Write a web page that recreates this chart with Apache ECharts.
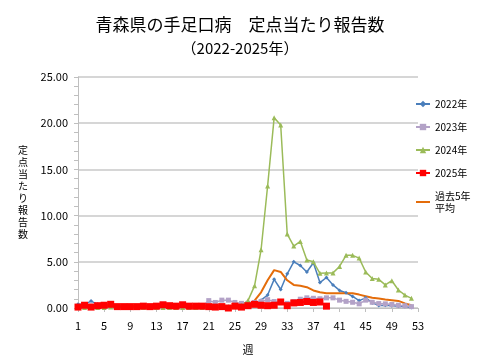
<!DOCTYPE html>
<html><head><meta charset="utf-8">
<script src="https://cdn.jsdelivr.net/npm/echarts@6/dist/echarts.min.js"></script>
<style>html,body{margin:0;padding:0;background:#fff}#c{width:480px;height:360px}</style>
</head><body><div id="c"></div>
<script>
const weeks = Array.from({length:53},(_,i)=>String(i+1));
const y2022 = [0.4,0.4,0.75,0.4,0.3,0.25,0.2,0.15,0.15,0.1, 0.1,0.1,0.1,0.1,0.15,0.15,0.1,0.1,0.1,0.1, 0.1,0.1,0.15,0.15,0.2,0.25,0.3,0.45,0.85,1.4, 3.1,2.0,3.7,5.0,4.6,3.9,4.9,2.75,3.3,2.5, 1.9,1.65,1.25,0.8,1.1,0.55,0.28,0.3,0.25,0.2, 0.15,0.05];
const y2023 = [0.15,0.15,0.2,0.2,0.15,0.15,0.1,0.1,0.1,0.1, 0.1,0.1,0.1,0.1,0.1,0.1,0.1,0.1,0.1,0.15, 0.8,0.6,0.85,0.85,0.6,0.5,0.5,0.6,0.7,0.9, 0.7,0.6,0.5,0.7,0.95,1.1,1.05,1.0,1.1,1.1, 0.85,0.72,0.62,0.45,0.85,0.62,0.48,0.45,0.38,0.3, 0.25,0.15];
const y2024 = [0.05,0.05,0.05,0.05,0.05,0.1,0.05,0.05,0.05,0.05, 0.05,0.05,0.05,0.05,0.05,0.05,0.05,0.05,0.05,0.05, 0.05,0.05,0.1,0.1,0.15,0.3,0.8,2.4,6.3,13.2, 20.6,19.8,8.0,6.7,7.2,5.2,5.0,3.75,3.8,3.8, 4.5,5.7,5.7,5.4,3.9,3.2,3.1,2.5,2.95,1.95, 1.4,1.05];
const y2025 = [0.1,0.3,0.1,0.25,0.3,0.4,0.15,0.15,0.15,0.15, 0.2,0.15,0.2,0.35,0.25,0.2,0.35,0.2,0.2,0.2, 0.15,0.1,0.15,0.0,0.2,0.1,0.25,0.4,0.3,0.25, 0.3,0.65,0.25,0.55,0.6,0.7,0.6,0.65,0.2];
const avg5 = [0.3,0.3,0.3,0.3,0.3,0.3,0.28,0.27,0.26,0.25, 0.25,0.24,0.24,0.23,0.23,0.22,0.22,0.22,0.21,0.21, 0.21,0.21,0.21,0.22,0.22,0.25,0.35,0.8,1.7,3.0, 4.1,3.9,3.0,2.5,2.4,2.25,1.9,1.7,1.6,1.6, 1.6,1.6,1.6,1.45,1.28,1.1,1.02,0.92,0.85,0.77, 0.5,0.3];
const yTicks = [0,5,10,15,20,25];
const seriesNames = ['2022年','2023年','2024年','2025年','過去5年\n平均'];

const FONT = '"Noto Sans CJK JP", "Noto Sans", sans-serif';
const chart = echarts.init(document.getElementById('c'));
chart.setOption({
  animation:false,
  textStyle:{fontFamily:FONT},
  title:[
    {text:'青森県の手足口病　定点当たり報告数', left:'center', top:11, textStyle:{fontSize:17, fontWeight:'normal', color:'#000', fontFamily:FONT}},
    {text:'（2022-2025年）', left:'center', top:36, textStyle:{fontSize:15, fontWeight:'normal', color:'#000', fontFamily:FONT}}
  ],
  legend:{
    orient:'vertical', left:415, top:98, padding:0, itemWidth:14, itemHeight:8, itemGap:11,
    textStyle:{fontSize:10, color:'#000', fontFamily:FONT, lineHeight:12},
    data:[seriesNames[0], seriesNames[1], seriesNames[2], seriesNames[3],
          {name:seriesNames[4], itemStyle:{opacity:0}}]
  },
  grid:{left:78, right:62, top:77, bottom:52},
  xAxis:{
    type:'category', data:weeks, boundaryGap:false,
    name:'週', nameLocation:'middle', nameGap:36,
    nameTextStyle:{fontSize:11, color:'#000', fontFamily:FONT},
    axisLine:{lineStyle:{color:'#bfbfbf'}},
    axisTick:{show:true, interval:3, length:4, lineStyle:{color:'#bfbfbf'}},
    axisLabel:{interval:3, fontSize:11, color:'#000', margin:12, fontFamily:FONT}
  },
  yAxis:{
    type:'value', min:yTicks[0], max:yTicks[yTicks.length-1], interval:5,
    name:'定\n点\n当\nた\nり\n報\n告\n数', nameLocation:'middle', nameRotate:0, nameGap:50,
    nameTextStyle:{fontSize:10, color:'#000', lineHeight:12, fontFamily:FONT},
    axisLine:{show:true, lineStyle:{color:'#bfbfbf'}},
    axisTick:{show:true, length:4, lineStyle:{color:'#bfbfbf'}},
    minorTick:{show:true, splitNumber:5, length:4, lineStyle:{color:'#bfbfbf'}},
    splitLine:{lineStyle:{color:'#c8c8c8', width:1.5}},
    axisLabel:{formatter:v=>v.toFixed(2), fontSize:11, color:'#000', margin:10, fontFamily:FONT}
  },
  series:[
    {name:seriesNames[0], type:'line', data:y2022, symbol:'diamond', symbolSize:4, showAllSymbol:true,
     itemStyle:{color:'#4a7ebb'}, lineStyle:{color:'#4a7ebb', width:1.5}},
    {name:seriesNames[1], type:'line', data:y2023, symbol:'rect', symbolSize:5, showAllSymbol:true,
     itemStyle:{color:'#b3a2c7'}, lineStyle:{color:'#b3a2c7', width:1.5}},
    {name:seriesNames[2], type:'line', data:y2024, symbol:'triangle', symbolSize:5, showAllSymbol:true,
     itemStyle:{color:'#9bbb59'}, lineStyle:{color:'#9bbb59', width:1.5}},
    {name:seriesNames[3], type:'line', data:y2025, symbol:'rect', symbolSize:7, showAllSymbol:true,
     itemStyle:{color:'#ff0000'}, lineStyle:{color:'#ff0000', width:2}},
    {name:seriesNames[4], type:'line', data:avg5, symbol:'none', showSymbol:false,
     itemStyle:{color:'#e46c0a'}, lineStyle:{color:'#e46c0a', width:2}}
  ]
});
</script></body></html>
